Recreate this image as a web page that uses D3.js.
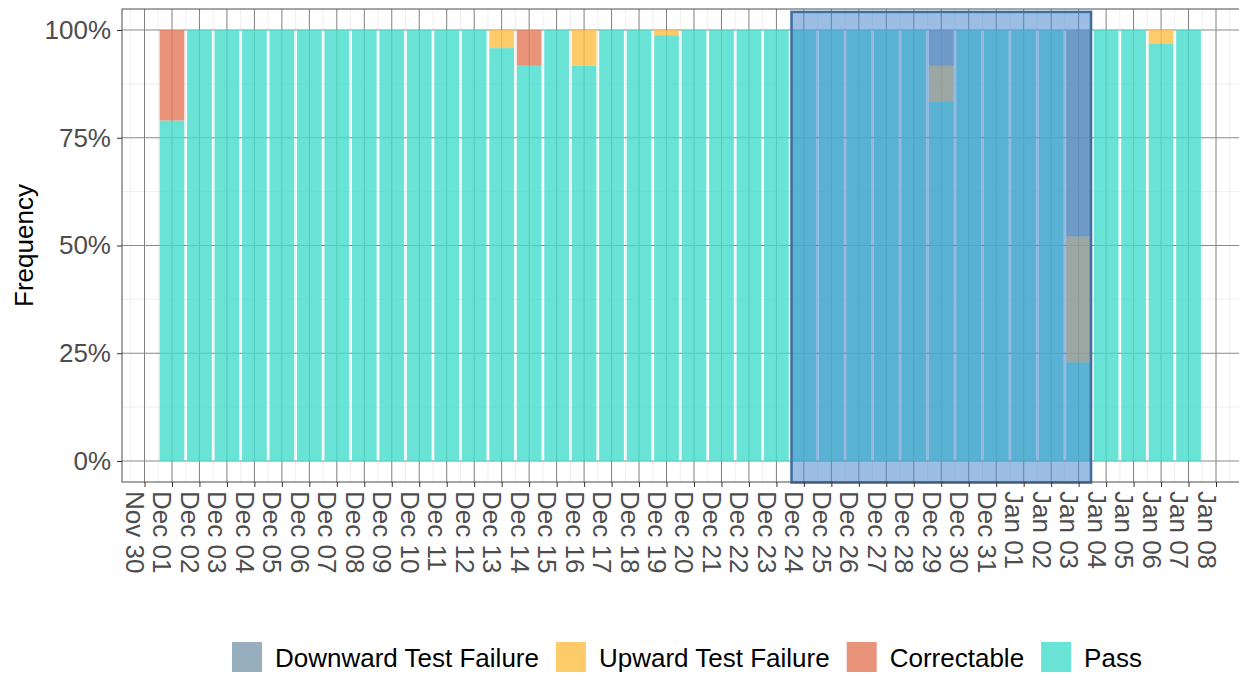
<!DOCTYPE html>
<html lang="en">
<head>
    <meta charset="UTF-8">
    <style>
        body {
            margin: 0;
            padding: 0;
            background-color: #fff;
            overflow: hidden;
            font-family: "Liberation Sans", Arial, sans-serif;
        }
        #chart {
            display: block;
        }
    </style>
</head>
<body>
    <svg id="chart"></svg>

    <script src="https://cdn.jsdelivr.net/npm/d3@7"></script>
    <script>
        const width = 1239;
        const height = 673;

        // days with a bar, Dec 01 .. Jan 07
        const firstDay = "2020-12-01";
        const dayCount = 38;

        // share of each outcome per day (index 0 = Dec 01)
        const pass = [0.79, 1, 1, 1, 1, 1, 1, 1, 1, 1, 1, 1, 0.958, 0.917, 1, 0.917, 1, 1, 0.988, 1,
                      1, 1, 1, 1, 1, 1, 1, 1, 0.834, 1, 1, 1, 1, 0.229, 1, 1, 0.969, 1];
        const correctable = [0.21, 0, 0, 0, 0, 0, 0, 0, 0, 0, 0, 0, 0, 0.083, 0, 0, 0, 0, 0, 0,
                             0, 0, 0, 0, 0, 0, 0, 0, 0, 0, 0, 0, 0, 0, 0, 0, 0, 0];
        const upward = [0, 0, 0, 0, 0, 0, 0, 0, 0, 0, 0, 0, 0.042, 0, 0, 0.083, 0, 0, 0.012, 0,
                        0, 0, 0, 0, 0, 0, 0, 0, 0.083, 0, 0, 0, 0, 0.292, 0, 0, 0.031, 0];
        const downward = [0, 0, 0, 0, 0, 0, 0, 0, 0, 0, 0, 0, 0, 0, 0, 0, 0, 0, 0, 0,
                          0, 0, 0, 0, 0, 0, 0, 0, 0.083, 0, 0, 0, 0, 0.479, 0, 0, 0, 0];

        // legend order (top of stack first)
        const categories = ["Downward Test Failure", "Upward Test Failure", "Correctable", "Pass"];
        const colors = ["#7d9bad", "#febe46", "#e4785a", "#45dccd"];

        const yTicks = [0, 0.25, 0.5, 0.75, 1];
        const axisStart = "2020-11-30";
        const axisEnd = "2021-01-08";

        // highlighted window (Dec 24 .. Jan 03)
        const highlightDays = ["2020-12-24", "2021-01-03"];
        const highlightY = [-0.05, 1.042];

        const parse = d3.utcParse("%Y-%m-%d");
        const dayMs = 864e5;
        const dates = d3.range(dayCount).map(i => d3.utcDay.offset(parse(firstDay), i));

        const rows = dates.map((d, i) => ({
            date: d,
            "Pass": pass[i],
            "Correctable": correctable[i],
            "Upward Test Failure": upward[i],
            "Downward Test Failure": downward[i]
        }));

        const panel = { left: 122, top: 9, right: 1241, bottom: 482 };

        const x = d3.scaleUtc()
            .domain([parse(axisStart), parse(axisEnd)])
            .range([144.5, 1216]);
        const y = d3.scaleLinear().domain([0, 1]).range([461, 30]);

        const svg = d3.select("#chart").attr("width", width).attr("height", height);

        // minor grid
        const xTickDates = d3.utcDay.range(parse(axisStart), d3.utcDay.offset(parse(axisEnd), 1));
        const minorX = d3.range(-1, xTickDates.length).map(i =>
            new Date(parse(axisStart).getTime() + (i + 0.5) * dayMs));
        const minorY = [-0.125, 0.125, 0.375, 0.625, 0.875];

        const grid = svg.append("g");
        grid.selectAll(".minx").data(minorX).enter().append("line")
            .attr("x1", d => x(d)).attr("x2", d => x(d))
            .attr("y1", panel.top).attr("y2", panel.bottom)
            .attr("stroke", "#ebebeb").attr("stroke-width", 0.8);
        grid.selectAll(".miny").data(minorY.filter(v => y(v) < panel.bottom)).enter().append("line")
            .attr("x1", panel.left).attr("x2", panel.right)
            .attr("y1", d => y(d)).attr("y2", d => y(d))
            .attr("stroke", "#ebebeb").attr("stroke-width", 0.8);
        grid.selectAll(".majx").data(xTickDates).enter().append("line")
            .attr("x1", d => x(d)).attr("x2", d => x(d))
            .attr("y1", panel.top).attr("y2", panel.bottom)
            .attr("stroke", "#808080").attr("stroke-width", 1);
        grid.selectAll(".majy").data(yTicks).enter().append("line")
            .attr("x1", panel.left).attr("x2", panel.right)
            .attr("y1", d => y(d)).attr("y2", d => y(d))
            .attr("stroke", "#8a8a8a").attr("stroke-width", 1);

        // stacked bars
        const stackKeys = categories.slice().reverse();
        const series = d3.stack().keys(stackKeys)(rows);
        const color = d3.scaleOrdinal().domain(categories).range(colors);
        const barW = x(new Date(dayMs * 0.9)) - x(new Date(0));

        svg.append("g").selectAll("g")
            .data(series)
            .enter().append("g")
            .attr("fill", d => color(d.key))
            .attr("fill-opacity", 0.8)
            .selectAll("rect")
            .data(d => d.filter(s => s[1] - s[0] > 0))
            .enter().append("rect")
            .attr("x", d => x(d.data.date) - barW / 2)
            .attr("width", barW)
            .attr("y", d => y(d[1]))
            .attr("height", d => y(d[0]) - y(d[1]));

        // highlight window
        const hx0 = x(parse(highlightDays[0])) - barW / 2;
        const hx1 = x(parse(highlightDays[1])) + barW / 2;
        svg.append("rect")
            .attr("x", hx0)
            .attr("y", y(highlightY[1]))
            .attr("width", hx1 - hx0)
            .attr("height", y(highlightY[0]) - y(highlightY[1]))
            .attr("fill", "#4a89d0")
            .attr("fill-opacity", 0.55)
            .attr("stroke", "#3e6d9f")
            .attr("stroke-width", 2.5);

        // panel border
        svg.append("rect")
            .attr("x", panel.left).attr("y", panel.top)
            .attr("width", panel.right - panel.left)
            .attr("height", panel.bottom - panel.top)
            .attr("fill", "none")
            .attr("stroke", "#4d4d4d")
            .attr("stroke-width", 1);

        // y axis
        const yAxis = svg.append("g")
            .attr("transform", `translate(${panel.left},0)`)
            .call(d3.axisLeft(y).tickValues(yTicks).tickFormat(d3.format(".0%")).tickSize(5).tickPadding(6));
        yAxis.select(".domain").remove();
        yAxis.selectAll("line").attr("stroke", "#333");
        yAxis.selectAll("text")
            .attr("fill", "#4d4d4d")
            .style("font-size", "26px")
            .style("font-family", "'Liberation Sans', Arial, sans-serif");

        // x axis
        const xAxis = svg.append("g")
            .attr("transform", `translate(0,${panel.bottom})`)
            .call(d3.axisBottom(x).tickValues(xTickDates).tickFormat(d3.utcFormat("%b %d")).tickSize(5));
        xAxis.select(".domain").remove();
        xAxis.selectAll("line").attr("stroke", "#333");
        xAxis.selectAll("text")
            .attr("fill", "#4d4d4d")
            .attr("y", 0)
            .attr("dy", 0)
            .attr("text-anchor", "start")
            .attr("transform", "translate(-19,9) rotate(90)")
            .style("font-size", "26px")
            .style("font-family", "'Liberation Sans', Arial, sans-serif");

        // y title
        svg.append("text")
            .attr("transform", `translate(33,${(y(0) + y(1)) / 2}) rotate(-90)`)
            .attr("text-anchor", "middle")
            .attr("fill", "#000")
            .style("font-size", "26px")
            .text("Frequency");

        // legend
        let lx = 232;
        const legend = svg.append("g").attr("transform", "translate(0,642)");
        categories.forEach((c, i) => {
            const g = legend.append("g").attr("transform", `translate(${lx},0)`);
            g.append("rect")
                .attr("width", 30).attr("height", 30)
                .attr("fill", colors[i]).attr("fill-opacity", 0.8);
            const t = g.append("text")
                .attr("x", 43).attr("y", 24.5)
                .attr("fill", "#000")
                .style("font-size", "26px")
                .text(c);
            lx += 43 + t.node().getComputedTextLength() + 17;
        });
    </script>
</body>
</html>
